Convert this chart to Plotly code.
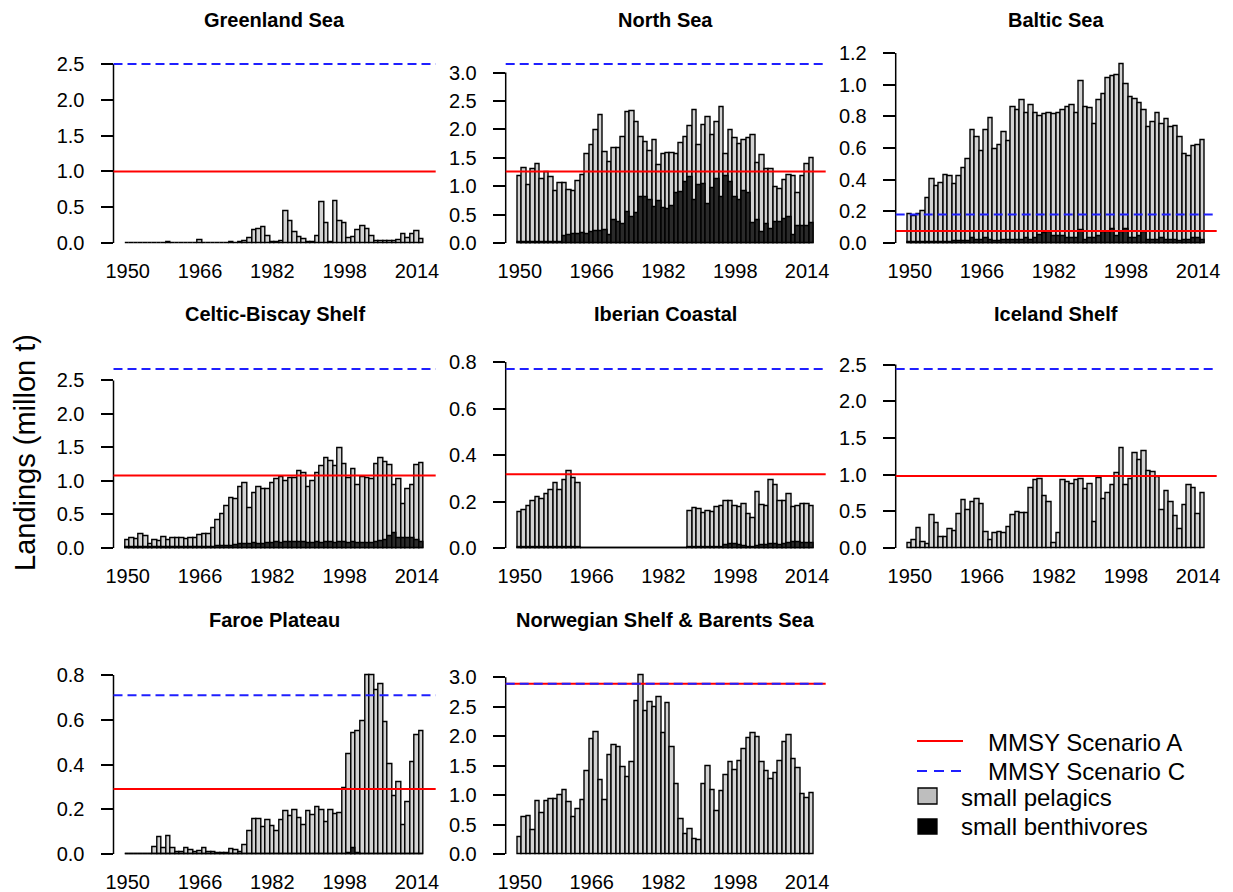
import plotly.graph_objects as go

# ---------------- data ----------------
years = list(range(1950, 2016))
x_tick_years = [1950, 1966, 1982, 1998, 2014]

greenland_total = [0.001, 0.001, 0.001, 0.001, 0.001, 0.001, 0.001, 0.001, 0.001, 0.01,
                   0.001, 0.001, 0.001, 0.001, 0.001, 0.001, 0.04, 0.001, 0.001, 0.001,
                   0.001, 0.001, 0.001, 0.005, 0.001, 0.005, 0.02, 0.07, 0.18, 0.19,
                   0.22, 0.10, 0.01, 0.01, 0.03, 0.44, 0.30, 0.15, 0.08, 0.05,
                   0.01, 0.01, 0.10, 0.57, 0.27, 0.01, 0.58, 0.31, 0.27, 0.06,
                   0.08, 0.18, 0.24, 0.19, 0.10, 0.03, 0.03, 0.03, 0.02, 0.02,
                   0.04, 0.12, 0.06, 0.12, 0.17, 0.05]

north_total = [1.17, 1.31, 1.02, 1.30, 1.38, 1.13, 1.24, 1.15, 0.92, 1.05,
               1.06, 0.93, 0.91, 1.09, 1.19, 1.56, 1.72, 1.98, 2.24, 1.60,
               1.43, 1.66, 1.66, 1.87, 2.30, 2.32, 2.13, 1.86, 1.77, 1.62,
               1.81, 1.37, 1.57, 1.58, 1.58, 1.57, 1.76, 1.87, 2.05, 2.34,
               1.72, 2.08, 2.22, 1.90, 2.12, 2.39, 1.56, 1.98, 1.84, 1.74,
               1.80, 1.84, 1.89, 1.41, 1.54, 1.30, 1.29, 0.99, 0.94, 1.10,
               1.19, 1.17, 0.87, 1.17, 1.38, 1.50]
north_benth = [0.02, 0.02, 0.02, 0.02, 0.02, 0.02, 0.02, 0.02, 0.02, 0.02,
               0.12, 0.13, 0.15, 0.15, 0.18, 0.16, 0.19, 0.20, 0.21, 0.22,
               0.13, 0.40, 0.37, 0.33, 0.54, 0.46, 0.52, 0.80, 0.80, 0.75,
               0.63, 0.74, 0.61, 0.60, 0.65, 0.87, 0.90, 1.07, 1.16, 0.75,
               1.02, 1.03, 0.69, 0.97, 1.13, 0.81, 1.17, 1.07, 0.81, 0.75,
               0.91, 0.88, 0.35, 0.40, 0.19, 0.33, 0.25, 0.36, 0.37, 0.42,
               0.46, 0.13, 0.29, 0.29, 0.30, 0.35]

baltic_total = [0.18, 0.17, 0.18, 0.20, 0.28, 0.40, 0.36, 0.38, 0.43, 0.42,
                0.37, 0.42, 0.47, 0.53, 0.71, 0.67, 0.58, 0.71, 0.79, 0.59,
                0.62, 0.70, 0.64, 0.86, 0.84, 0.90, 0.82, 0.87, 0.82, 0.80,
                0.81, 0.82, 0.81, 0.82, 0.84, 0.86, 0.87, 0.82, 1.02, 0.86,
                0.85, 0.75, 0.90, 0.94, 1.04, 1.05, 1.06, 1.13, 1.00, 0.92,
                0.91, 0.88, 0.84, 0.73, 0.76, 0.82, 0.75, 0.78, 0.73, 0.74,
                0.67, 0.56, 0.55, 0.61, 0.62, 0.65]
baltic_benth = [0.005, 0.005, 0.005, 0.005, 0.005, 0.005, 0.005, 0.005, 0.005, 0.005,
                0.01, 0.01, 0.01, 0.01, 0.03, 0.02, 0.02, 0.03, 0.02, 0.01,
                0.01, 0.02, 0.02, 0.02, 0.02, 0.02, 0.03, 0.02, 0.03, 0.05,
                0.06, 0.07, 0.04, 0.04, 0.04, 0.03, 0.03, 0.03, 0.08, 0.02,
                0.03, 0.03, 0.04, 0.07, 0.07, 0.09, 0.04, 0.07, 0.09, 0.03,
                0.03, 0.04, 0.07, 0.02, 0.02, 0.02, 0.03, 0.02, 0.02, 0.02,
                0.01, 0.02, 0.02, 0.03, 0.03, 0.02]

celtic_total = [0.12, 0.14, 0.13, 0.21, 0.17, 0.05, 0.11, 0.10, 0.16, 0.12,
                0.14, 0.14, 0.14, 0.13, 0.14, 0.14, 0.19, 0.20, 0.21, 0.29,
                0.42, 0.51, 0.62, 0.74, 0.73, 0.90, 0.97, 0.60, 0.81, 0.91,
                0.88, 0.87, 0.96, 1.02, 1.05, 0.99, 1.04, 1.04, 1.14, 1.11,
                0.91, 1.00, 1.12, 1.22, 1.34, 1.29, 1.22, 1.49, 1.25, 1.04,
                1.18, 0.94, 1.06, 1.04, 1.03, 1.25, 1.34, 1.28, 1.24, 0.93,
                1.03, 0.66, 0.87, 0.93, 1.23, 1.26]
celtic_benth = [0.01, 0.01, 0.01, 0.01, 0.01, 0.01, 0.01, 0.01, 0.01, 0.01,
                0.01, 0.01, 0.01, 0.01, 0.01, 0.01, 0.01, 0.01, 0.01, 0.01,
                0.02, 0.02, 0.03, 0.03, 0.04, 0.05, 0.05, 0.06, 0.07, 0.06,
                0.06, 0.07, 0.07, 0.08, 0.07, 0.08, 0.08, 0.09, 0.08, 0.08,
                0.07, 0.07, 0.08, 0.07, 0.08, 0.08, 0.07, 0.08, 0.08, 0.07,
                0.08, 0.07, 0.07, 0.07, 0.07, 0.08, 0.10, 0.11, 0.18, 0.22,
                0.14, 0.15, 0.15, 0.14, 0.12, 0.08]

iberian_total = [0.153, 0.162, 0.18, 0.20, 0.22, 0.21, 0.23, 0.25, 0.28, 0.25,
                 0.29, 0.33, 0.30, 0.28, 0.001, 0.001, 0.001, 0.001, 0.001, 0.001,
                 0.001, 0.001, 0.001, 0.001, 0.001, 0.001, 0.001, 0.001, 0.001, 0.001,
                 0.001, 0.001, 0.001, 0.001, 0.001, 0.001, 0.001, 0.001, 0.16, 0.17,
                 0.165, 0.15, 0.16, 0.155, 0.175, 0.18, 0.20, 0.20, 0.18, 0.175,
                 0.19, 0.145, 0.13, 0.24, 0.185, 0.18, 0.29, 0.27, 0.20, 0.20,
                 0.23, 0.175, 0.18, 0.19, 0.19, 0.18]
iberian_benth = [0.003, 0.003, 0.003, 0.003, 0.003, 0.003, 0.003, 0.003, 0.003, 0.003,
                 0.003, 0.003, 0.003, 0.003, 0, 0, 0, 0, 0, 0,
                 0, 0, 0, 0, 0, 0, 0, 0, 0, 0,
                 0, 0, 0, 0, 0, 0, 0, 0, 0.003, 0.003,
                 0.003, 0.003, 0.003, 0.003, 0.003, 0.003, 0.01, 0.015, 0.015, 0.012,
                 0.008, 0.005, 0.005, 0.008, 0.01, 0.012, 0.015, 0.015, 0.012, 0.015,
                 0.02, 0.025, 0.025, 0.022, 0.02, 0.02]

iceland_total = [0.07, 0.10, 0.27, 0.08, 0.05, 0.45, 0.34, 0.15, 0.15, 0.26,
                 0.23, 0.46, 0.65, 0.52, 0.63, 0.67, 0.60, 0.22, 0.10, 0.20,
                 0.21, 0.20, 0.28, 0.45, 0.49, 0.48, 0.47, 0.82, 0.93, 0.94,
                 0.71, 0.63, 0.07, 0.20, 0.92, 0.89, 0.87, 0.93, 0.94, 0.80,
                 0.87, 0.35, 0.95, 0.66, 0.75, 0.86, 1.02, 1.36, 0.86, 0.94,
                 1.29, 1.20, 1.32, 1.04, 1.03, 0.96, 0.51, 0.77, 0.63, 0.43,
                 0.26, 0.58, 0.86, 0.82, 0.46, 0.74]

faroe_total = [0.001, 0.001, 0.001, 0.001, 0.001, 0.001, 0.03, 0.075, 0.025, 0.078,
               0.025, 0.01, 0.01, 0.025, 0.018, 0.01, 0.013, 0.028, 0.008, 0.008,
               0.005, 0.003, 0.003, 0.02, 0.015, 0.008, 0.04, 0.10, 0.155, 0.155,
               0.12, 0.15, 0.125, 0.10, 0.15, 0.19, 0.17, 0.195, 0.16, 0.13,
               0.19, 0.175, 0.21, 0.195, 0.14, 0.195, 0.18, 0.183, 0.295, 0.445,
               0.54, 0.55, 0.595, 0.80, 0.80, 0.73, 0.76, 0.59, 0.40, 0.26,
               0.32, 0.13, 0.23, 0.41, 0.53, 0.55]
faroe_benth = [0, 0, 0, 0, 0, 0, 0, 0, 0, 0,
               0, 0, 0, 0, 0, 0, 0, 0, 0, 0,
               0, 0, 0, 0, 0, 0, 0, 0, 0, 0,
               0, 0, 0, 0, 0, 0, 0, 0, 0, 0,
               0, 0, 0, 0, 0, 0, 0, 0, 0, 0.005,
               0.025, 0.005, 0, 0, 0, 0, 0, 0, 0, 0,
               0, 0, 0, 0, 0, 0]

norway_total = [0.28, 0.63, 0.645, 0.41, 0.90, 0.69, 0.90, 0.93, 0.93, 1.00,
                1.075, 0.88, 0.62, 0.76, 0.92, 1.41, 1.95, 2.06, 1.26, 0.92,
                1.67, 1.84, 1.81, 1.47, 1.31, 1.56, 2.60, 3.04, 2.42, 2.58,
                2.49, 2.66, 2.05, 2.56, 1.82, 1.18, 0.59, 0.33, 0.42, 0.25,
                0.24, 1.18, 1.49, 1.08, 0.72, 1.06, 1.34, 1.56, 1.43, 1.58,
                1.78, 1.96, 2.05, 1.98, 1.56, 1.41, 1.27, 1.37, 1.58, 1.89,
                2.02, 1.61, 1.45, 1.02, 0.94, 1.03]

region_names = ["Greenland Sea", "North Sea", "Baltic Sea",
                "Celtic-Biscay Shelf", "Iberian Coastal", "Iceland Shelf",
                "Faroe Plateau", "Norwegian Shelf & Barents Sea"]
mmsy_a = [1.00, 1.26, 0.075, 1.08, 0.317, 0.98, 0.29, 2.89]
mmsy_c = [2.50, 3.15, 0.18, 2.67, 0.77, 2.44, 0.71, 2.89]
y_tick_steps = [0.5, 0.5, 0.2, 0.5, 0.2, 0.5, 0.2, 0.5]
y_tick_tops = [2.5, 3.0, 1.2, 2.5, 0.8, 2.5, 0.8, 3.0]

panel_totals = [greenland_total, north_total, baltic_total, celtic_total,
                iberian_total, iceland_total, faroe_total, norway_total]
panel_benth = [None, north_benth, baltic_benth, celtic_benth,
               iberian_benth, None, faroe_benth, None]

# ---------------- layout geometry (window pixels) ----------------
OFF = 8                      # page body margin in the browser
W, H = 1233 - OFF, 892 - OFF
FONT = "Liberation Sans, Arial, Helvetica, sans-serif"
col_px = [(113.5, 435.7), (505.7, 825.7), (895.7, 1216.7)]
zero_px = [243, 548, 854]
span_px = 179
title_px = [20, 314, 620]
x_range = [1946.86, 2018.14]

def px_x(x):
    return (x - OFF) / W

def px_y(y):
    return 1 - (y - OFF) / H

fig = go.Figure()
shapes = []
annotations = []
layout_axes = {}

for i in range(8):
    r, c = divmod(i, 3)
    n = i + 1
    xa = "x" if n == 1 else f"x{n}"
    ya = "y" if n == 1 else f"y{n}"
    tot = panel_totals[i]
    M = max(max(tot), mmsy_a[i], mmsy_c[i])
    yr = [-0.044 * M, 1.144 * M]
    Z = zero_px[r]
    ybot = Z + 0.044 * span_px
    ytop = Z - 1.144 * span_px
    x0p, x1p = col_px[c]

    fig.add_trace(go.Bar(x=years, y=tot, width=1, xaxis=xa, yaxis=ya,
                         marker=dict(color="#d2d2d2", line=dict(color="black", width=1.4)),
                         hoverinfo="x+y"))
    if panel_benth[i] is not None:
        fig.add_trace(go.Bar(x=years, y=panel_benth[i], width=1, xaxis=xa, yaxis=ya,
                             marker=dict(color="#2a2a2a", line=dict(color="black", width=1.4)),
                             hoverinfo="x+y"))

    step = y_tick_steps[i]
    nt = int(round(y_tick_tops[i] / step)) + 1
    tv = [round(k * step, 2) for k in range(nt)]
    tt = [f"{v:.1f}" for v in tv]

    layout_axes["xaxis" if n == 1 else f"xaxis{n}"] = dict(
        domain=[px_x(x0p), px_x(x1p)], anchor=ya, range=x_range, automargin=False,
        tickvals=x_tick_years, ticktext=[str(v) for v in x_tick_years],
        ticks="outside", ticklen=2, tickcolor="rgba(0,0,0,0)",
        showline=False, showgrid=False, zeroline=False,
        tickfont=dict(size=20, color="black", family=FONT), fixedrange=True)
    layout_axes["yaxis" if n == 1 else f"yaxis{n}"] = dict(
        domain=[px_y(ybot), px_y(ytop)], anchor=xa, range=yr, automargin=False,
        tickvals=tv, ticktext=tt, ticks="outside", ticklen=12, tickwidth=1.5,
        tickcolor="black", showline=False, showgrid=False, zeroline=False,
        ticklabelstandoff=12,
        tickfont=dict(size=20, color="black", family=FONT), fixedrange=True)

    dom = f"{xa} domain"
    # R-style axis line from first to last tick
    shapes.append(dict(type="line", xref=dom, yref=ya, x0=0, x1=0, y0=0, y1=tv[-1],
                       line=dict(color="black", width=1.5)))
    # MMSY lines
    shapes.append(dict(type="line", xref=dom, yref=ya, x0=0, x1=1,
                       y0=mmsy_a[i], y1=mmsy_a[i], line=dict(color="#ff0000", width=2)))
    shapes.append(dict(type="line", xref=dom, yref=ya, x0=0, x1=1,
                       y0=mmsy_c[i], y1=mmsy_c[i],
                       line=dict(color="#1f1fff", width=2, dash="9px,5px")))
    # panel title
    annotations.append(dict(xref="paper", yref="paper", x=px_x((x0p + x1p) / 2),
                            y=px_y(title_px[r]), text=f"<b>{region_names[i]}</b>",
                            showarrow=False, xanchor="center", yanchor="middle",
                            font=dict(size=20, color="black", family=FONT)))

# y-axis title
annotations.append(dict(xref="paper", yref="paper", x=px_x(25), y=px_y(453),
                        text="Landings (millon t)", textangle=-90, showarrow=False,
                        xanchor="center", yanchor="middle",
                        font=dict(size=29, color="black", family=FONT)))

# legend (drawn manually)
leg_font = dict(size=24, color="black", family=FONT)
shapes.append(dict(type="line", xref="paper", yref="paper", x0=px_x(917), x1=px_x(963),
                   y0=px_y(741), y1=px_y(741), line=dict(color="#ff0000", width=2)))
shapes.append(dict(type="line", xref="paper", yref="paper", x0=px_x(917), x1=px_x(963),
                   y0=px_y(771), y1=px_y(771),
                   line=dict(color="#1f1fff", width=2, dash="10px,7px")))
shapes.append(dict(type="rect", xref="paper", yref="paper", x0=px_x(918), x1=px_x(937),
                   y0=px_y(804), y1=px_y(788), fillcolor="#bebebe",
                   line=dict(color="black", width=1.3)))
shapes.append(dict(type="rect", xref="paper", yref="paper", x0=px_x(918), x1=px_x(937),
                   y0=px_y(834), y1=px_y(819), fillcolor="black",
                   line=dict(color="black", width=1.3)))
for txt, xx, yy in [("MMSY Scenario A", 986, 742), ("MMSY Scenario C", 986, 771),
                    ("small pelagics", 959, 797), ("small benthivores", 959, 826)]:
    annotations.append(dict(xref="paper", yref="paper", x=px_x(xx), y=px_y(yy), text=txt,
                            showarrow=False, xanchor="left", yanchor="middle", font=leg_font))

fig.update_layout(
    width=W, height=H, margin=dict(l=0, r=0, t=0, b=0, autoexpand=False),
    paper_bgcolor="white", plot_bgcolor="white",
    barmode="overlay", bargap=0, showlegend=False,
    shapes=shapes, annotations=annotations,
    font=dict(family=FONT, color="black"),
    **layout_axes)

fig.write_html("out.html")
